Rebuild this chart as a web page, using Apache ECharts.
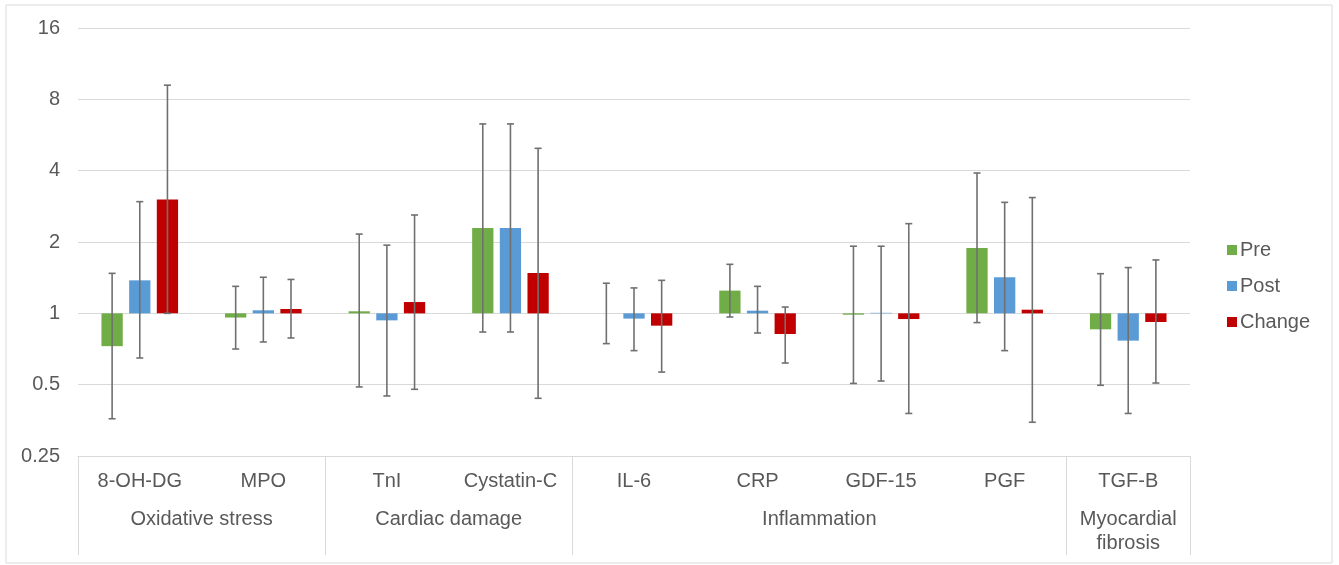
<!DOCTYPE html>
<html>
<head>
<meta charset="utf-8">
<script src="https://cdn.jsdelivr.net/npm/echarts@6/dist/echarts.min.js"></script>
<style>
  html, body { margin: 0; padding: 0; background: #fff; }
  #chart { width: 1339px; height: 565px; }
</style>
</head>
<body>
<div id="chart"></div>
<script>
// categories and their groups
const categories = ['8-OH-DG', 'MPO', 'TnI', 'Cystatin-C', 'IL-6', 'CRP', 'GDF-15', 'PGF', 'TGF-B'];
const groups = [
  { name: 'Oxidative stress', span: 2 },
  { name: 'Cardiac damage', span: 2 },
  { name: 'Inflammation', span: 4 },
  { name: 'Myocardial\nfibrosis', span: 1 }
];
const yTicks = [0.25, 0.5, 1, 2, 4, 8, 16];

// bar values (ratio, baseline 1)
const pre = [0.727, 0.96, 1.02, 2.29, 1.0, 1.247, 0.987, 1.887, 0.856];
const post = [1.378, 1.03, 0.934, 2.29, 0.95, 1.026, 1.005, 1.42, 0.767];
const change = [3.02, 1.043, 1.116, 1.48, 0.887, 0.818, 0.946, 1.036, 0.919];

// error bar bounds
const preLow = [0.359, 0.707, 0.489, 0.834, 0.745, 0.965, 0.506, 0.914, 0.497];
const preHigh = [1.475, 1.30, 2.16, 6.30, 1.34, 1.61, 1.92, 3.91, 1.47];
const postLow = [0.648, 0.757, 0.448, 0.834, 0.696, 0.826, 0.518, 0.696, 0.378];
const postHigh = [2.96, 1.42, 1.94, 6.30, 1.28, 1.30, 1.92, 2.94, 1.56];
const changeLow = [1.0, 0.787, 0.478, 0.438, 0.565, 0.617, 0.378, 0.347, 0.508];
const changeHigh = [9.18, 1.39, 2.60, 4.97, 1.378, 1.063, 2.39, 3.08, 1.68];

const colors = ['#70AD47', '#5B9BD5', '#C00000'];
const CAT_GAP = 0.38;
const BAR_GAP = 0.3;
const FONT = '"Liberation Sans", Arial, sans-serif';

var errData = [];
[[preLow, preHigh], [postLow, postHigh], [changeLow, changeHigh]].forEach(function (pair, s) {
  categories.forEach(function (c, i) {
    errData.push([i, s, pair[0][i], pair[1][i]]);
  });
});

function renderError(params, api) {
  var idx = api.value(0);
  var s = api.value(1);
  var lo = api.coord([idx, api.value(2)]);
  var hi = api.coord([idx, api.value(3)]);
  var band = api.size([1, 0])[0];
  var barW = band * (1 - CAT_GAP) / (3 + 2 * BAR_GAP);
  var cx = lo[0] + (s - 1) * barW * (1 + BAR_GAP);
  var cap = 3.5;
  var style = { stroke: '#707070', lineWidth: 1.6 };
  return {
    type: 'group',
    children: [
      { type: 'line', shape: { x1: cx, y1: lo[1], x2: cx, y2: hi[1] }, style: style },
      { type: 'line', shape: { x1: cx - cap, y1: lo[1], x2: cx + cap, y2: lo[1] }, style: style },
      { type: 'line', shape: { x1: cx - cap, y1: hi[1], x2: cx + cap, y2: hi[1] }, style: style }
    ]
  };
}

var chart = echarts.init(document.getElementById('chart'));
var option = {
  animation: false,
  textStyle: { fontFamily: FONT },
  grid: { left: 78, right: 149, top: 28, bottom: 109 },
  legend: {
    data: ['Pre', 'Post', 'Change'],
    orient: 'vertical',
    left: 1222,
    top: 235,
    itemWidth: 10,
    itemHeight: 10,
    itemGap: 16,
    icon: 'rect',
    textStyle: { fontSize: 20, color: '#595959', fontFamily: FONT, padding: [0, 0, 0, -2] }
  },
  xAxis: {
    type: 'category',
    data: categories,
    axisLine: { lineStyle: { color: '#d9d9d9', width: 1 } },
    axisTick: { show: false },
    axisLabel: { color: '#595959', fontSize: 20, margin: 15, interval: 0, fontFamily: FONT }
  },
  yAxis: {
    type: 'log',
    logBase: 2,
    min: 0.25,
    max: 16,
    splitNumber: 8,
    axisLine: { show: false },
    axisTick: { show: false },
    splitLine: { lineStyle: { color: '#d9d9d9', width: 1 } },
    axisLabel: {
      color: '#595959', fontSize: 20, margin: 18, fontFamily: FONT,
      formatter: function (v) { return String(+v.toFixed(4)); }
    }
  },
  series: [
    { name: 'Pre', type: 'bar', data: pre, itemStyle: { color: colors[0] }, barGap: BAR_GAP * 100 + '%', barCategoryGap: CAT_GAP * 100 + '%' },
    { name: 'Post', type: 'bar', data: post, itemStyle: { color: colors[1] }, barGap: BAR_GAP * 100 + '%', barCategoryGap: CAT_GAP * 100 + '%' },
    { name: 'Change', type: 'bar', data: change, itemStyle: { color: colors[2] }, barGap: BAR_GAP * 100 + '%', barCategoryGap: CAT_GAP * 100 + '%' },
    {
      name: 'err', type: 'custom', data: errData, renderItem: renderError,
      encode: { x: 0, y: [2, 3] }, z: 10, silent: true
    }
  ]
};
chart.setOption(option);

// multi-level axis: group labels and divider lines
var graphics = [{
  type: 'rect', shape: { x: 6, y: 5, width: 1326, height: 558 },
  style: { fill: 'none', stroke: '#d9d9d9', lineWidth: 1 }, silent: true
}];
var c0 = chart.convertToPixel({ xAxisIndex: 0 }, 0);
var c1 = chart.convertToPixel({ xAxisIndex: 0 }, 1);
var band = c1 - c0;
var axisY = chart.convertToPixel({ yAxisIndex: 0 }, 0.25);
var start = 0;
var edges = [c0 - band / 2];
groups.forEach(function (g) {
  var x0 = c0 - band / 2 + start * band;
  var x1 = x0 + g.span * band;
  edges.push(x1);
  graphics.push({
    type: 'text', x: (x0 + x1) / 2, y: axisY + (g.span === 1 ? 75 : 63),
    style: { text: g.name, fill: '#595959', font: '20px ' + FONT, align: 'center', verticalAlign: 'middle', lineHeight: 24 },
    silent: true
  });
  start += g.span;
});
edges.forEach(function (x) {
  graphics.push({
    type: 'line', shape: { x1: Math.round(x) + 0.5, y1: axisY, x2: Math.round(x) + 0.5, y2: axisY + 99 },
    style: { stroke: '#d9d9d9', lineWidth: 1 }, silent: true
  });
});
chart.setOption({ graphic: graphics });
</script>
</body>
</html>
